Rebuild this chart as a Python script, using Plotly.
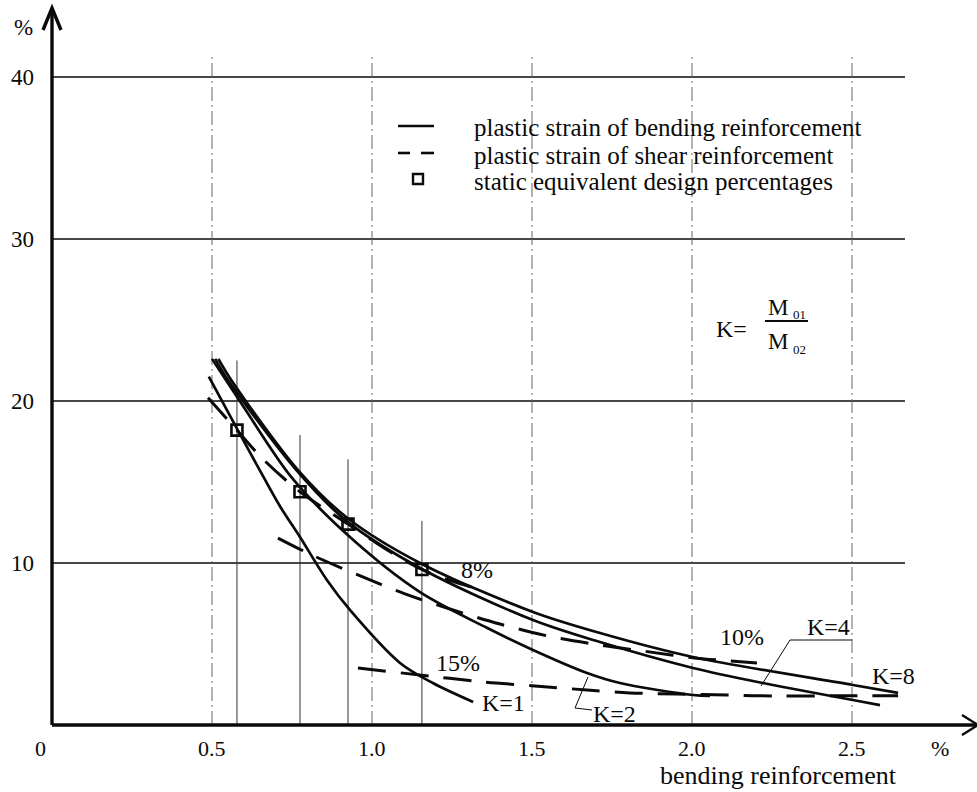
import plotly.graph_objects as go

# ---------------- data ----------------
# solid curves: plastic strain of bending reinforcement
K1_x = [0.49, 0.578, 0.65, 0.7125, 0.775, 0.859, 0.931, 1.0875, 1.19, 1.316]
K1_y = [21.5, 18.3, 15.7, 13.5, 11.6, 8.95, 7.1, 3.83, 2.59, 1.42]
K2_x = [0.50, 0.60, 0.75, 0.931, 1.15, 1.359, 1.503, 1.672, 1.775, 2.003, 2.056]
K2_y = [22.6, 19.6, 15.25, 11.6, 8.2, 6.0, 4.63, 3.21, 2.59, 1.85, 1.79]
K4_x = [0.51, 0.55, 0.765, 0.92, 1.156, 1.503, 1.7125, 2.003, 2.222, 2.5875]
K4_y = [22.6, 21.3, 15.7, 12.6, 9.63, 6.48, 5.12, 3.52, 2.59, 1.23]
K8_x = [0.52, 0.56, 0.77, 0.925, 1.156, 1.503, 1.7125, 2.003, 2.503, 2.644]
K8_y = [22.6, 21.3, 15.7, 12.75, 9.94, 6.98, 5.68, 4.2, 2.47, 1.98]

# dashed curves: plastic strain of shear reinforcement (8 %, 10 %, 15 %)
D8_x = [0.4875, 0.578, 0.66, 0.775, 0.925, 1.04, 1.156, 1.24, 1.322]
D8_y = [20.2, 18.2, 16.4, 14.4, 12.4, 10.9, 9.6, 8.95, 8.45]
D10_x = [0.706, 0.8125, 0.956, 1.103, 1.253, 1.4, 1.55, 1.7125, 1.853, 2.009, 2.203]
D10_y = [11.54, 10.49, 9.26, 8.09, 7.10, 6.23, 5.49, 4.94, 4.55, 4.14, 3.83]
D15_x = [0.956, 1.206, 1.353, 1.509, 1.672, 1.806, 1.953, 2.109, 2.259, 2.45, 2.644]
D15_y = [3.52, 2.96, 2.65, 2.41, 2.16, 1.98, 1.91, 1.85, 1.79, 1.8, 1.8]

# static equivalent design percentages
SQ_x = [0.578, 0.775, 0.925, 1.156]
SQ_y = [18.2, 14.4, 12.4, 9.6]
SQ_top = [22.5, 17.9, 16.4, 12.6]

# axes
X_TICKS = [0.5, 1.0, 1.5, 2.0, 2.5]
X_LABELS = ["0.5", "1.0", "1.5", "2.0", "2.5"]
Y_TICKS = [10, 20, 30, 40]
Y_LABELS = ["10", "20", "30", "40"]

LEGEND_TEXTS = ["plastic strain of bending reinforcement",
                "plastic strain of shear reinforcement",
                "static equivalent design percentages"]

# ---------------- pixel <-> data helpers (layout only) ----------------
W, H = 977, 792
X0PX, XS = 52, 320.0
Y0PX, YS = 725, 16.2


def dx(px):
    return (px - X0PX) / XS


def dy(py):
    return (Y0PX - py) / YS


FONT = "Liberation Serif, Times New Roman, serif"
BLACK = "#0a0a0a"

fig = go.Figure()

line_w = 2.7
for xs, ys in [(K1_x, K1_y), (K2_x, K2_y), (K4_x, K4_y), (K8_x, K8_y)]:
    fig.add_trace(go.Scatter(x=xs, y=ys, mode="lines",
                             line=dict(color=BLACK, width=line_w, shape="spline", smoothing=0.9),
                             hoverinfo="skip", showlegend=False))
for xs, ys in [(D8_x, D8_y), (D10_x, D10_y), (D15_x, D15_y)]:
    fig.add_trace(go.Scatter(x=xs, y=ys, mode="lines",
                             line=dict(color=BLACK, width=line_w + 0.3, dash="28px,15px",
                                       shape="spline", smoothing=0.9),
                             hoverinfo="skip", showlegend=False))

fig.add_trace(go.Scatter(x=SQ_x, y=SQ_y, mode="markers",
                         marker=dict(symbol="square-open", size=11, color=BLACK,
                                     line=dict(color=BLACK, width=2.6)),
                         hoverinfo="skip", showlegend=False))

shapes = []
# horizontal grid lines
for yv in Y_TICKS:
    shapes.append(dict(type="line", x0=0, x1=dx(905), y0=yv, y1=yv,
                       line=dict(color=BLACK, width=1.3), layer="below"))
# vertical dash-dot grid lines
for xv in X_TICKS:
    shapes.append(dict(type="line", x0=xv, x1=xv, y0=0, y1=dy(55),
                       line=dict(color="#666666", width=1, dash="14px,4px,2px,4px"), layer="below"))
# thin vertical lines at the design points
for xv, top in zip(SQ_x, SQ_top):
    shapes.append(dict(type="line", x0=xv, x1=xv, y0=0, y1=top,
                       line=dict(color="#333333", width=1), layer="below"))

# axes with arrows
shapes.append(dict(type="line", x0=0, x1=0, y0=0, y1=dy(10), line=dict(color=BLACK, width=3.4)))
shapes.append(dict(type="line", x0=0, x1=dx(977), y0=0, y1=0, line=dict(color=BLACK, width=3.4)))
shapes.append(dict(type="path",
                   path=f"M {dx(43)},{dy(30)} L {dx(52)},{dy(8)} L {dx(61)},{dy(30)}",
                   line=dict(color=BLACK, width=3.4)))
shapes.append(dict(type="path",
                   path=f"M {dx(962)},{dy(715)} L {dx(978)},{dy(725)} L {dx(962)},{dy(735)}",
                   line=dict(color=BLACK, width=2.5)))

# leader lines for K=2 and K=4
shapes.append(dict(type="path",
                   path=f"M {dx(588)},{dy(677)} L {dx(575)},{dy(708)} L {dx(592)},{dy(710)}",
                   line=dict(color=BLACK, width=1)))
shapes.append(dict(type="path",
                   path=f"M {dx(761)},{dy(686)} L {dx(790)},{dy(640)} L {dx(852)},{dy(640)}",
                   line=dict(color=BLACK, width=1)))

# legend samples
shapes.append(dict(type="line", x0=dx(398), x1=dx(434), y0=dy(126), y1=dy(126),
                   line=dict(color=BLACK, width=2.6)))
shapes.append(dict(type="line", x0=dx(398), x1=dx(410), y0=dy(153), y1=dy(153),
                   line=dict(color=BLACK, width=2.6)))
shapes.append(dict(type="line", x0=dx(421), x1=dx(434), y0=dy(153), y1=dy(153),
                   line=dict(color=BLACK, width=2.6)))
shapes.append(dict(type="rect", x0=dx(413), x1=dx(423), y0=dy(184), y1=dy(174),
                   line=dict(color=BLACK, width=2.4)))

# fraction bar of K formula
shapes.append(dict(type="line", x0=dx(765), x1=dx(808), y0=dy(321), y1=dy(321),
                   line=dict(color=BLACK, width=2)))

annotations = []


def txt(x, y, s, size=22, xanchor="center", yanchor="middle"):
    annotations.append(dict(x=x, y=y, text=s, showarrow=False, xanchor=xanchor, yanchor=yanchor,
                            font=dict(family=FONT, size=size, color=BLACK)))


for xv, lab in zip(X_TICKS, X_LABELS):
    txt(xv, dy(748), lab, size=22)
txt(dx(40), dy(748), "0", size=22)
txt(dx(940), dy(748), "%", size=22)
for yv, lab in zip(Y_TICKS, Y_LABELS):
    txt(dx(36), yv, lab, size=23, xanchor="right")
txt(dx(23), dy(27), "%", size=23)
txt(dx(778), dy(775), "bending reinforcement", size=26)

for s, py in zip(LEGEND_TEXTS, [127, 155, 181]):
    txt(dx(472), dy(py), s, size=25, xanchor="left")

txt(dx(477), dy(570), "8%", size=24)
txt(dx(742), dy(637), "10%", size=24)
txt(dx(458), dy(663), "15%", size=24)
txt(dx(503), dy(703), "K=1", size=24)
txt(dx(614), dy(714), "K=2", size=24)
txt(dx(828), dy(627), "K=4", size=24)
txt(dx(893), dy(676), "K=8", size=24)

txt(dx(731), dy(329), "K=", size=24)
txt(dx(778), dy(307), "M", size=23)
txt(dx(799), dy(314), "01", size=13)
txt(dx(778), dy(341), "M", size=23)
txt(dx(799), dy(349), "02", size=13)

fig.update_layout(
    width=W, height=H, autosize=False,
    margin=dict(l=0, r=0, t=0, b=0),
    paper_bgcolor="white", plot_bgcolor="white",
    xaxis=dict(range=[dx(0), dx(W)], visible=False, fixedrange=True),
    yaxis=dict(range=[dy(H), dy(0)], visible=False, fixedrange=True),
    shapes=shapes, annotations=annotations, showlegend=False,
)

fig.write_html("out.html", config={"displayModeBar": False},
               post_script="document.body.style.margin='0px';")
